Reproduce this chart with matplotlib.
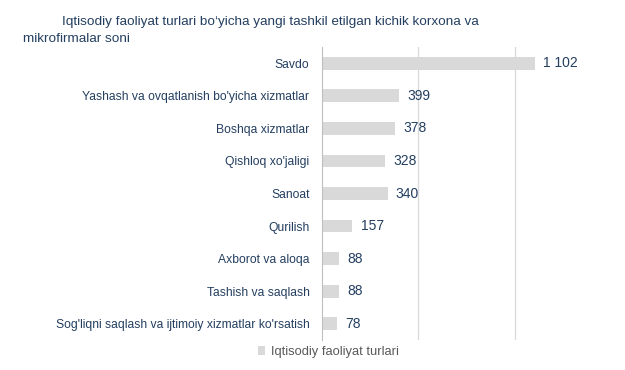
import matplotlib.pyplot as plt
from matplotlib.patches import Patch
import numpy as np

plt.rcParams['font.family'] = ['Liberation Sans', 'DejaVu Sans']

categories = ['Savdo',
              "Yashash va ovqatlanish bo'yicha xizmatlar",
              'Boshqa xizmatlar',
              "Qishloq xo'jaligi",
              'Sanoat',
              'Qurilish',
              'Axborot va aloqa',
              'Tashish va saqlash',
              "Sog'liqni saqlash va ijtimoiy xizmatlar ko'rsatish"]
values = [1102, 399, 378, 328, 340, 157, 88, 88, 78]
series_name = 'Iqtisodiy faoliyat turlari'

text_col = '#243F60'
bar_col = '#D9D9D9'

fig = plt.figure(figsize=(6.25, 3.7), dpi=100)
ax = fig.add_axes([322 / 625, 30 / 370, 270 / 625, 293 / 370])

y = np.arange(len(categories))
bars = ax.barh(y, values, height=0.39, color=bar_col, zorder=2)
ax.set_ylim(len(categories) - 0.5, -0.5)
ax.set_xlim(0, 1400)
ax.set_yticks(y)
ax.set_yticklabels(categories, fontsize=8.7, color=text_col)
ax.tick_params(axis='y', length=0, pad=9)
ax.set_xticks([500, 1000])
ax.tick_params(axis='x', length=0, labelbottom=False)
ax.grid(axis='x', color='#D9D9D9', linewidth=0.9, zorder=0)
for s in ['top', 'right', 'bottom']:
    ax.spines[s].set_visible(False)
ax.spines['left'].set_color('#BFBFBF')

for rect, v in zip(bars, values):
    label = f'{v:,}'.replace(',', ' ')
    ax.annotate(label, xy=(rect.get_width(), rect.get_y() + rect.get_height() / 2),
                xytext=(6, 0), textcoords='offset points',
                ha='left', va='center', fontsize=10, color=text_col)

fig.text(62 / 625, 1 - 25 / 370,
         "Iqtisodiy faoliyat turlari bo\u2018yicha yangi tashkil etilgan kichik korxona va",
         fontsize=9.7, color=text_col, va='baseline', ha='left')
fig.text(23 / 625, 1 - 42 / 370, 'mikrofirmalar soni',
         fontsize=9.7, color=text_col, va='baseline', ha='left')

fig.legend(handles=[Patch(facecolor=bar_col, label=series_name)],
           loc='center', bbox_to_anchor=(328 / 625, 1 - 352 / 370),
           frameon=False, fontsize=9.3, labelcolor='#595959',
           handlelength=0.6, handleheight=0.6, handletextpad=0.4)

fig.savefig('out.png', dpi=100)
